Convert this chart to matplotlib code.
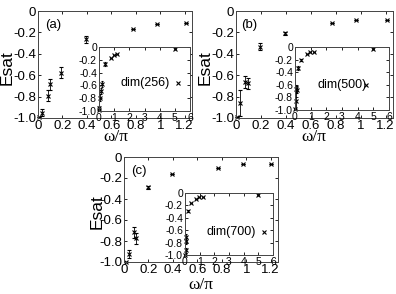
import matplotlib
matplotlib.use("Agg")
import matplotlib.pyplot as plt

# ---- data ----
w_a = [0.01, 0.03, 0.08, 0.10, 0.19, 0.39, 0.78, 0.97, 1.21, 5.0]
e_a = [-0.99, -0.95, -0.79, -0.685, -0.575, -0.265, -0.17, -0.12, -0.115, -0.035]
err_a = [0.0, 0.03, 0.05, 0.05, 0.05, 0.03, 0.0, 0.0, 0.0, 0.0]

w_b = [0.005, 0.033, 0.074, 0.097, 0.19, 0.39, 0.77, 0.96, 1.21, 5.0]
e_b = [-0.99, -0.857, -0.66, -0.676, -0.333, -0.21, -0.11, -0.085, -0.08, -0.035]
err_b = [0.0, 0.12, 0.055, 0.05, 0.03, 0.015, 0.0, 0.0, 0.0, 0.0]

w_c = [0.016, 0.043, 0.084, 0.10, 0.20, 0.39, 0.77, 0.97, 1.20, 5.0]
e_c = [-1.0, -0.924, -0.717, -0.774, -0.29, -0.165, -0.10, -0.07, -0.07, -0.03]
err_c = [0.0, 0.04, 0.05, 0.05, 0.015, 0.0, 0.0, 0.0, 0.0, 0.0]

panel_tags = ["(a)", "(b)", "(c)"]
dim_labels = ["dim(256)", "dim(500)", "dim(700)"]

main_xticks = [0, 0.2, 0.4, 0.6, 0.8, 1.0, 1.2]
main_xticklabels = ["0", "0.2", "0.4", "0.6", "0.8", "1", "1.2"]
yticks = [0, -0.2, -0.4, -0.6, -0.8, -1.0]
yticklabels = ["0", "-0.2", "-0.4", "-0.6", "-0.8", "-1.0"]
inset_xticks = [0, 1, 2, 3, 4, 5, 6]
inset_xticklabels = ["0", "1", "2", "3", "4", "5", "6"]

# ---- layout (pixels) ----
W, H = 396, 294
def rect(l, r, t, b):
    return [l / W, (H - b) / H, (r - l) / W, (b - t) / H]

main_rects = [rect(38, 192, 11, 118), rect(236, 393, 11, 118), rect(124, 278, 157, 262)]
inset_rects = [rect(99, 190, 47, 111), rect(295, 389, 47, 110), rect(185, 273, 193, 255)]
ylab_pos = [(7.5, 68), (205, 68), (97.5, 212)]
xlab_pos = [(116, 137), (314, 137), (201, 285)]
tag_pos = [(0.045, 0.87), (0.03, 0.87), (0.045, 0.867)]
dim_text_pos = [(0.233, 0.44), (0.24, 0.40), (0.247, 0.37)]
dim_mark_pos = [(0.863, 0.44), (0.755, 0.40), (0.898, 0.37)]

plt.rcParams['font.family'] = ['Liberation Sans', 'DejaVu Sans']

fig = plt.figure(figsize=(W / 100, H / 100), dpi=100)
fig.patch.set_facecolor("white")

datasets = [(w_a, e_a, err_a), (w_b, e_b, err_b), (w_c, e_c, err_c)]

def style(ax, fs, length):
    ax.tick_params(direction="in", top=True, right=True, length=length, width=0.6,
                   labelsize=fs, pad=1.5, colors="black")
    for s in ax.spines.values():
        s.set_linewidth(0.7)
        s.set_color("#444444")

for i, (w, e, err) in enumerate(datasets):
    ax = fig.add_axes(main_rects[i])
    ax.errorbar(w, e, yerr=err, fmt="x", color="black", ms=3.5, mew=0.8,
                elinewidth=0.6, capsize=1.2, capthick=0.6, clip_on=False)
    ax.set_xlim(0, 1.26)
    ax.set_ylim(-1.0, 0)
    ax.set_xticks(main_xticks)
    ax.set_xticklabels(main_xticklabels)
    ax.set_yticks(yticks)
    ax.set_yticklabels(yticklabels)
    style(ax, 9.5, 2.5)
    ax.text(tag_pos[i][0], tag_pos[i][1], panel_tags[i], transform=ax.transAxes,
            fontsize=9.5, va="center", ha="left")
    fig.text(ylab_pos[i][0] / W, 1 - ylab_pos[i][1] / H, "Esat", rotation=90,
             fontsize=12.5, ha="center", va="center")
    fig.text(xlab_pos[i][0] / W, 1 - xlab_pos[i][1] / H, "ω/π",
             fontsize=12.5, ha="center", va="center", family=["Liberation Serif", "DejaVu Serif"])

    ins = fig.add_axes(inset_rects[i])
    ins.errorbar(w, e, yerr=err, fmt="x", color="black", ms=3.2, mew=0.8,
                 elinewidth=0.6, capsize=1.0, capthick=0.6, clip_on=False)
    ins.set_xlim(0, 6)
    ins.set_ylim(-1.0, 0)
    ins.set_xticks(inset_xticks)
    ins.set_xticklabels(inset_xticklabels)
    ins.set_yticks(yticks)
    ins.set_yticklabels(yticklabels)
    style(ins, 7.5, 2)
    ins.text(dim_text_pos[i][0], dim_text_pos[i][1], dim_labels[i], transform=ins.transAxes,
             fontsize=9, va="center", ha="left")
    ins.plot([dim_mark_pos[i][0]], [dim_mark_pos[i][1]], "x", color="black", ms=3.2,
             mew=0.8, transform=ins.transAxes)

fig.savefig("out.png", dpi=100, facecolor="white")
